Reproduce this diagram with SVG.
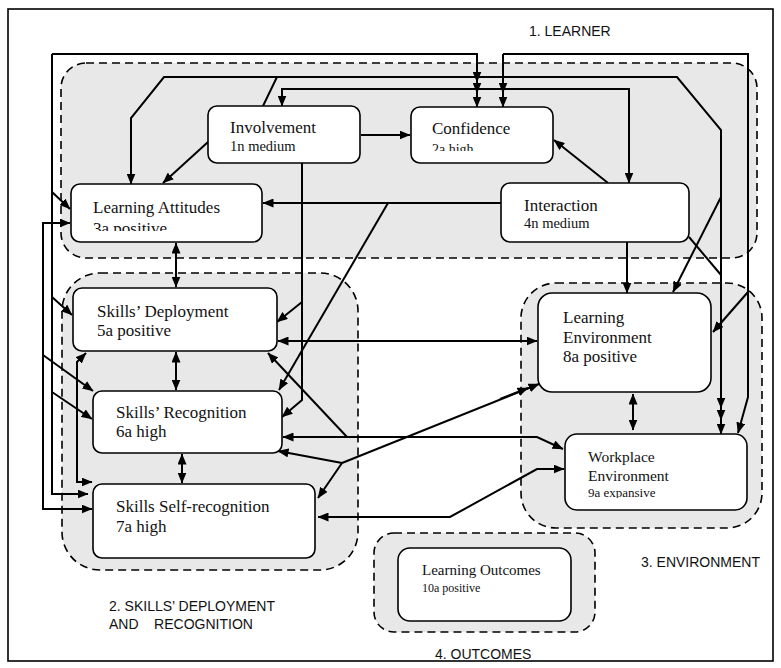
<svg xmlns="http://www.w3.org/2000/svg" width="781" height="668" viewBox="0 0 781 668">
<style>
.grp{fill:#e8e8e8;stroke:#000;stroke-width:1.6;stroke-dasharray:8 5}
.node{fill:#fff;stroke:#000;stroke-width:1.6}
.t{font-family:"Liberation Serif","Times New Roman",serif;fill:#111}
.lbl{font-family:"Liberation Sans",Arial,sans-serif;font-size:14px;fill:#111}
.c{fill:none;stroke:#000;stroke-width:2}
.a{marker-end:url(#ah)}
.b{marker-start:url(#ah);marker-end:url(#ah)}
</style>
<defs>
<marker id="ah" viewBox="0 0 11 9" refX="10.5" refY="4.5" markerWidth="11" markerHeight="9" markerUnits="userSpaceOnUse" orient="auto-start-reverse"><path d="M0,0 L11,4.5 L0,9 z" fill="#000"/></marker>
<clipPath id="clipConf"><rect x="411" y="107" width="142" height="44"/></clipPath>
<clipPath id="clipAtt"><rect x="71" y="184" width="191" height="47"/></clipPath>
<clipPath id="clipWork"><rect x="565" y="434" width="182" height="64"/></clipPath>
</defs>
<rect x="8" y="9" width="765" height="652" fill="#fff" stroke="#000" stroke-width="1.6"/>
<g id="group-learner"><rect class="grp" x="61" y="63" width="696" height="195" rx="25"/><text class="lbl" x="529" y="36">1. LEARNER</text></g>
<g id="group-skills"><rect class="grp" x="62" y="273" width="296" height="297" rx="38"/><text class="lbl" x="109" y="611">2. SKILLS’ DEPLOYMENT</text><text class="lbl" x="109" y="629" xml:space="preserve">AND    RECOGNITION</text></g>
<g id="group-environment"><rect class="grp" x="521" y="283" width="241" height="245" rx="35"/><text class="lbl" x="641" y="567">3. ENVIRONMENT</text></g>
<g id="group-outcomes"><rect class="grp" x="374" y="533" width="221" height="99" rx="20"/><text class="lbl" x="435" y="659">4. OUTCOMES</text></g>
<g id="connectors">
<path class="c a" d="M52,54 H477 V107"/>
<path class="c a" d="M477,72 V82"/>
<path class="c a" d="M477,84 V93"/>
<path class="c a" d="M503,54 V107"/>
<path class="c a" d="M503,84 V93"/>
<path class="c a" d="M503,54 H748 V397 L738,433"/>
<path class="c a" d="M748,292 L713,332"/>
<path class="c a" d="M52,54 V494 H88"/>
<path class="c a" d="M52,192 L70,209"/>
<path class="c a" d="M52,297 L72,315"/>
<path class="c a" d="M52,392 L92,419"/>
<path class="c b" d="M70,223 H43 V509 H92"/>
<path class="c a" d="M43,355 L93,391"/>
<path class="c b" d="M86,353 L77,362 V482 H92"/>
<path class="c a" d="M263,106 L277,77 H164 L131,118 V184"/>
<path class="c a" d="M277,77 H677 L721,130 V434"/>
<path class="c a" d="M721,396 V408"/>
<path class="c a" d="M721,410 V420"/>
<path class="c" d="M689,237 L721,275"/>
<path class="c a" d="M721,197 L673,292"/>
<path class="c b" d="M629,183 V89 H282 V106"/>
<path class="c a" d="M361,135 H410"/>
<path class="c a" d="M208,142 L163,183"/>
<path class="c a" d="M501,203 H263"/>
<path class="c a" d="M388,203 L279,390"/>
<path class="c a" d="M302,163 V400 L282,417"/>
<path class="c a" d="M302,302 L277,322"/>
<path class="c a" d="M608,183 L554,140"/>
<path class="c a" d="M627,242 V293"/>
<path class="c b" d="M176,243 V287"/>
<path class="c b" d="M176,352 V390"/>
<path class="c b" d="M182,454 V483"/>
<path class="c b" d="M278,341 H537"/>
<path class="c b" d="M283,437 H537 L563,449"/>
<path class="c a" d="M347,437 L268,353"/>
<path class="c b" d="M278,451 L342,463 L318,498"/>
<path class="c a" d="M342,463 L539,384"/>
<path class="c a" d="M500,399 L528,388"/>
<path class="c b" d="M318,517 H450 L537,469 H564"/>
<path class="c b" d="M633,394 V430"/>
</g>
<g id="involvement"><rect class="node" x="208" y="106" width="152" height="57" rx="9"/><text class="t" x="230" y="133" font-size="17">Involvement</text><text class="t" x="230" y="151" font-size="14.5">1n medium</text></g>
<g id="confidence"><rect class="node" x="411" y="107" width="142" height="56" rx="9"/><text class="t" x="432" y="134" font-size="17">Confidence</text><text class="t" x="432" y="154" font-size="14" clip-path="url(#clipConf)">2a high</text></g>
<g id="learning-attitudes"><rect class="node" x="71" y="184" width="191" height="58" rx="9"/><text class="t" x="93" y="213" font-size="17">Learning Attitudes</text><text class="t" x="93" y="234" font-size="17" clip-path="url(#clipAtt)">3a positive</text></g>
<g id="interaction"><rect class="node" x="501" y="183" width="188" height="59" rx="9"/><text class="t" x="524" y="211" font-size="17">Interaction</text><text class="t" x="524" y="228" font-size="14.5">4n medium</text></g>
<g id="skills-deployment"><rect class="node" x="73" y="288" width="204" height="63" rx="9"/><text class="t" x="97" y="317" font-size="17">Skills’ Deployment</text><text class="t" x="97" y="336" font-size="17">5a positive</text></g>
<g id="skills-recognition"><rect class="node" x="93" y="391" width="189" height="62" rx="9"/><text class="t" x="116" y="418" font-size="17">Skills’ Recognition</text><text class="t" x="116" y="437" font-size="17">6a high</text></g>
<g id="skills-self-recognition"><rect class="node" x="93" y="484" width="222" height="74" rx="9"/><text class="t" x="116" y="512" font-size="17">Skills Self-recognition</text><text class="t" x="116" y="532" font-size="17">7a high</text></g>
<g id="learning-environment"><rect class="node" x="538" y="293" width="173" height="99" rx="14"/><text class="t" x="563" y="323" font-size="17">Learning</text><text class="t" x="563" y="343" font-size="17">Environment</text><text class="t" x="563" y="362" font-size="17">8a positive</text></g>
<g id="workplace-environment"><rect class="node" x="565" y="434" width="182" height="76" rx="12"/><text class="t" x="588" y="462" font-size="15.5">Workplace</text><text class="t" x="588" y="481" font-size="15.5">Environment</text><text class="t" x="588" y="497" font-size="13" clip-path="url(#clipWork)">9a expansive</text></g>
<g id="learning-outcomes"><rect class="node" x="398" y="548" width="173" height="73" rx="12"/><text class="t" x="422" y="575" font-size="15">Learning Outcomes</text><text class="t" x="422" y="592" font-size="12">10a positive</text></g>
</svg>
